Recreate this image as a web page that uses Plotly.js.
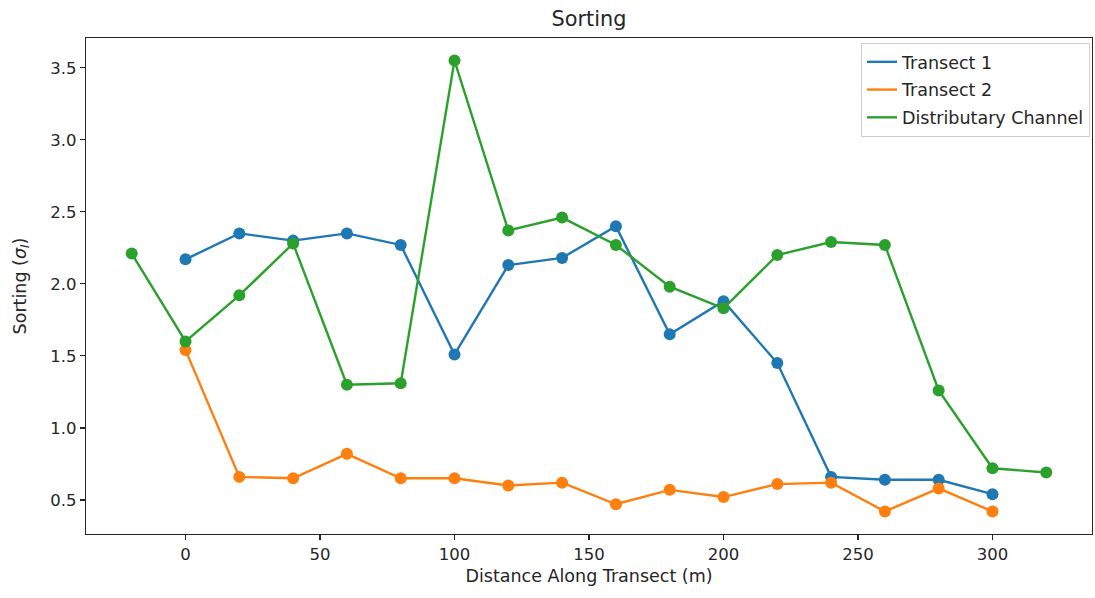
<!DOCTYPE html>
<html>
<head>
<meta charset="utf-8">
<script src="https://cdn.plot.ly/plotly-3.0.1.min.js"></script>
<style>html,body{margin:0;padding:0;background:#fff;}#chart{width:1095px;height:598px;}</style>
</head>
<body>
<div id="chart"></div>
<script>
const transectX = [0, 20, 40, 60, 80, 100, 120, 140, 160, 180, 200, 220, 240, 260, 280, 300];
const transect1 = [2.17, 2.35, 2.30, 2.35, 2.27, 1.51, 2.13, 2.18, 2.40, 1.65, 1.88, 1.45, 0.66, 0.64, 0.64, 0.54];
const transect2 = [1.54, 0.66, 0.65, 0.82, 0.65, 0.65, 0.60, 0.62, 0.47, 0.57, 0.52, 0.61, 0.62, 0.42, 0.58, 0.42];
const channelX = [-20, 0, 20, 40, 60, 80, 100, 120, 140, 160, 180, 200, 220, 240, 260, 280, 300, 320];
const channel = [2.21, 1.60, 1.92, 2.28, 1.30, 1.31, 3.55, 2.37, 2.46, 2.27, 1.98, 1.83, 2.20, 2.29, 2.27, 1.26, 0.72, 0.69];
const seriesNames = ["Transect 1", "Transect 2", "Distributary Channel"];
const colors = ["#1f77b4", "#ff7f0e", "#2ca02c"];

const series = [
  {x: transectX, y: transect1},
  {x: transectX, y: transect2},
  {x: channelX, y: channel}
];
const traces = [];
series.forEach((s, i) => {
  traces.push({x: s.x, y: s.y, type: "scatter", mode: "lines", name: seriesNames[i],
    legendgroup: "g" + i, line: {color: colors[i], width: 2.4}, hoverinfo: "skip"});
  traces.push({x: s.x, y: s.y, type: "scatter", mode: "markers", showlegend: false,
    legendgroup: "g" + i, marker: {color: colors[i], size: 12}});
});

const font = "DejaVu Sans, sans-serif";
const txt = "#262626";
const layout = {
  width: 1095, height: 598,
  paper_bgcolor: "#fff", plot_bgcolor: "#fff",
  margin: {l: 86, r: 3, t: 38, b: 64},
  font: {family: font, size: 17, color: txt},
  title: {text: "Sorting", font: {family: font, size: 20.8, color: txt},
    x: 0.5, xref: "paper", xanchor: "center", y: 1 - 19/598, yref: "container", yanchor: "middle"},
  showlegend: true,
  legend: {x: 0.998, xanchor: "right", y: 0.99, yanchor: "top",
    bgcolor: "rgba(255,255,255,0.8)", bordercolor: "#cccccc", borderwidth: 1,
    font: {family: font, size: 17.5, color: txt}, tracegroupgap: 2},
  xaxis: {range: [-37, 337], tickvals: [0, 50, 100, 150, 200, 250, 300],
    showgrid: false, zeroline: false, showline: true, mirror: true, linecolor: txt, linewidth: 1.3,
    ticks: "outside", ticklen: 5, tickwidth: 1.2, tickcolor: txt,
    tickfont: {family: font, size: 16.5, color: txt},
    title: {text: "Distance Along Transect (m)", font: {family: font, size: 17.5, color: txt}, standoff: 6}},
  yaxis: {range: [0.2635, 3.7065], tickvals: [0.5, 1.0, 1.5, 2.0, 2.5, 3.0, 3.5],
    ticktext: ["0.5", "1.0", "1.5", "2.0", "2.5", "3.0", "3.5"],
    showgrid: false, zeroline: false, showline: true, mirror: true, linecolor: txt, linewidth: 1.3,
    ticks: "outside", ticklen: 5, tickwidth: 1.2, tickcolor: txt,
    tickfont: {family: font, size: 16.5, color: txt},
    title: {text: "Sorting (<i>σ</i><sub><i>I</i></sub>)", font: {family: font, size: 17.5, color: txt}, standoff: 19}}
};
Plotly.newPlot("chart", traces, layout, {displayModeBar: false, staticPlot: true});
</script>
</body>
</html>
